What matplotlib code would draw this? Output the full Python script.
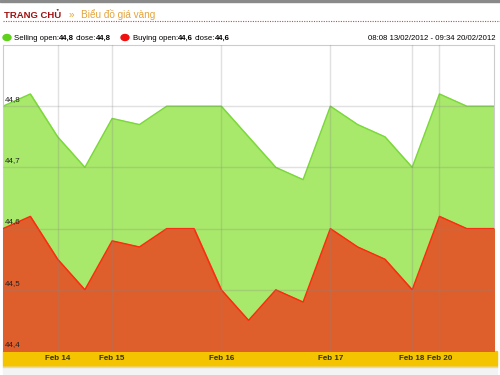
import numpy as np
import matplotlib.pyplot as plt
from matplotlib.patches import Rectangle, Circle
from matplotlib.lines import Line2D
from matplotlib.transforms import blended_transform_factory

plt.rcParams['font.family'] = ['Liberation Sans', 'DejaVu Sans']

# Gold price data (19 samples, 13/02 - 20/02/2012)
selling = [44.80, 44.82, 44.75, 44.70, 44.78, 44.77, 44.80, 44.80, 44.80, 44.75,
           44.70, 44.68, 44.80, 44.77, 44.75, 44.70, 44.82, 44.80, 44.80]
buying = [44.60, 44.62, 44.55, 44.50, 44.58, 44.57, 44.60, 44.60, 44.50, 44.45,
          44.50, 44.48, 44.60, 44.57, 44.55, 44.50, 44.62, 44.60, 44.60]
tick_idx = [2, 4, 8, 12, 15, 16]
tick_labels = ['Feb 14', 'Feb 15', 'Feb 16', 'Feb 17', 'Feb 18', 'Feb 20']
y_ticks = [44.4, 44.5, 44.6, 44.7, 44.8]

W, H = 500, 375
fig = plt.figure(figsize=(5, 3.75), dpi=100)
renderer = fig.canvas.get_renderer()

def px(x, y):
    # pixel coords (top-left origin) -> figure fraction
    return x / W, 1 - y / H

def row(x, y, parts):
    # write text pieces one after another on the same baseline
    for s, gap, kw in parts:
        x += gap
        t = fig.text(*px(x, y), s, va='baseline', ha='left', **kw)
        x = t.get_window_extent(renderer).x1
    return x

# top border and header
fig.add_artist(Rectangle((0, 1 - 2 / H), 1, 2 / H, color='#8a8a8a', transform=fig.transFigure))
gold = '#e3a43c'
row(4, 18, [('TRANG CHỦ', 0, dict(color='#a01010', fontsize=6.8, fontweight='bold')),
            ('»', 7, dict(color=gold, fontsize=7.2)),
            ('Biểu đồ giá vàng', 7, dict(color=gold, fontsize=7.2))])
fig.add_artist(Line2D([3 / W, 1], [1 - 21 / H] * 2, color='#e04040', lw=0.8,
                      linestyle=(0, (1, 1.2)), transform=fig.transFigure))

# legend row
ly = 40
fs = 5.6
norm = dict(fontsize=fs)
bold = dict(fontsize=fs, fontweight='bold')
fig.add_artist(Circle(px(7, ly - 2.5), 4 / W, color='#5ed21a', transform=fig.transFigure))
row(14, ly, [('Selling open:', 0, norm), ('44,8', 0, bold), ('close:', 2, norm), ('44,8', 0, bold)])
fig.add_artist(Circle(px(125, ly - 2.5), 4 / W, color='#f01010', transform=fig.transFigure))
row(133, ly, [('Buying open:', 0, norm), ('44,6', 0, bold), ('close:', 2, norm), ('44,6', 0, bold)])
fig.text(*px(496, ly), '08:08 13/02/2012 - 09:34 20/02/2012', fontsize=fs, va='baseline', ha='right')

# yellow x-axis band and light footer
fig.add_artist(Rectangle(px(3, 366), 494 / W, 15 / H, color='#f5c400', zorder=-1,
                         transform=fig.transFigure))
fig.add_artist(Rectangle(px(3, 375), 494 / W, 8 / H, color='#f3f3f3', zorder=-1,
                         transform=fig.transFigure))
fig.add_artist(Line2D([3 / W, 497 / W], [1 - 367 / H] * 2, color='#d8d8d8', lw=1,
                      zorder=-1, transform=fig.transFigure))

ax = fig.add_axes([3 / W, 1 - 351 / H, 491 / W, 306 / H])
x = np.arange(len(selling))
ax.fill_between(x, 44.4, selling, color='#a8e86a', zorder=1)
ax.plot(x, selling, color='#7ad83a', lw=1, zorder=2)
ax.fill_between(x, 44.4, buying, color='#de5e2c', zorder=3)
ax.plot(x, buying, color='#ff2a10', lw=1, zorder=4)

ax.set_xlim(0, len(selling) - 1)
ax.set_ylim(44.4, 44.9)
for i in tick_idx:
    ax.axvline(i, color='#888888', alpha=0.25, lw=1, zorder=5)
for v in y_ticks[1:]:
    ax.axhline(v, color='#888888', alpha=0.25, lw=1, zorder=5)

tr = blended_transform_factory(ax.transAxes, ax.transData)
for v in y_ticks:
    ax.text(0.004, v + 0.005, f'{v:.1f}'.replace('.', ','), transform=tr,
            fontsize=5.8, color='#222222', va='bottom', ha='left', zorder=6)

ax.set_xticks(tick_idx)
ax.set_xticklabels(tick_labels, fontsize=5.8, color='#333300', fontweight='bold')
ax.tick_params(axis='x', length=0, pad=3)
ax.set_yticks([])
for s in ax.spines.values():
    s.set_color('#cccccc')
ax.spines['bottom'].set_visible(False)

fig.savefig('out.png', dpi=100)
